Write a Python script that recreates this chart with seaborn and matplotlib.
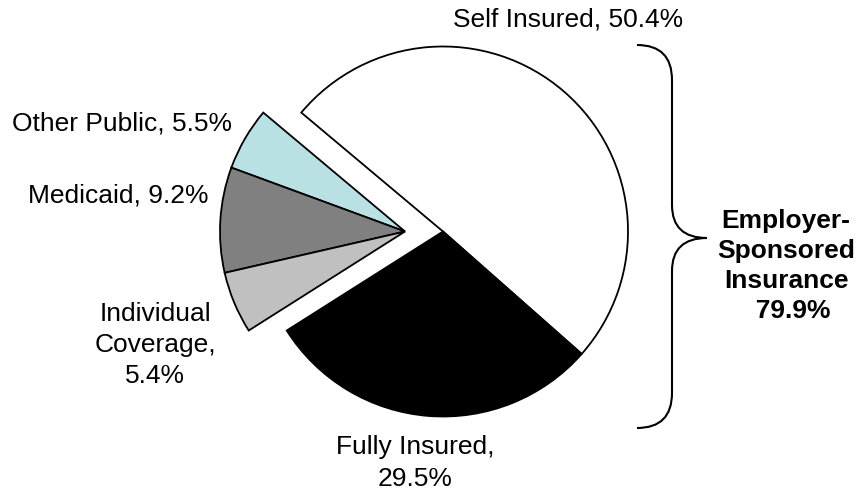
import matplotlib
matplotlib.use("Agg")
import matplotlib.pyplot as plt
from matplotlib.path import Path
from matplotlib.patches import PathPatch
import seaborn as sns

# coverage shares (percent), counterclockwise from Self Insured
labels = ["Self Insured", "Other Public", "Medicaid", "Individual Coverage", "Fully Insured"]
shares = [50.4, 5.5, 9.2, 5.4, 29.5]
employer = [True, False, False, False, True]
colors = ["white", "#b9e0e3", "#808080", "#c0c0c0", "black"]
employer_total = "79.9%"

sns.set_theme(style="white")
plt.rcParams["font.family"] = ["Liberation Sans", "DejaVu Sans"]
plt.rcParams["text.color"] = "black"

W, H = 859, 494
fig = plt.figure(figsize=(W / 100, H / 100), dpi=100)
ax = fig.add_axes([0, 0, 1, 1])

R = 185
cy = H - 231.5
start = 140 - shares[0] * 3.6

# employer-sponsored slices pulled right, the rest pulled left
for cx, keep in [(443, True), (405, False)]:
    wedges, _ = ax.pie(shares, colors=colors, startangle=start, radius=R,
                       center=(cx, cy), counterclock=True,
                       wedgeprops=dict(edgecolor="black", linewidth=1.3))
    for w, emp in zip(wedges, employer):
        w.set_visible(emp == keep)

ax.set_xlim(0, W)
ax.set_ylim(0, H)
ax.set_aspect("equal")
ax.axis("off")

fs = 19
def label(x, y, s, ls=1.38, **kw):
    ax.text(x, H - y, s, ha="center", va="center", fontsize=fs, color="black",
            multialignment="center", linespacing=ls, **kw)

label(568, 20, f"{labels[0]}, {shares[0]}%")
label(122, 123, f"{labels[1]}, {shares[1]}%")
label(118, 196, f"{labels[2]}, {shares[2]}%")
label(155, 345, f"Individual\nCoverage,\n{shares[3]}%")
label(415, 463, f"{labels[4]},\n{shares[4]}%")
label(786, 266, f"Employer-\nSponsored\nInsurance\n  {employer_total}", ls=1.33, fontweight="bold")

# curly brace around the employer-sponsored slices
def p(x, y):
    return (x, H - y)

verts = [p(637, 45), p(672, 45), p(672, 80),
         p(672, 205),
         p(672, 238), p(707, 238),
         p(672, 238), p(672, 271),
         p(672, 393),
         p(672, 428), p(637, 428)]
codes = [Path.MOVETO, Path.CURVE3, Path.CURVE3,
         Path.LINETO,
         Path.CURVE3, Path.CURVE3,
         Path.CURVE3, Path.CURVE3,
         Path.LINETO,
         Path.CURVE3, Path.CURVE3]
ax.add_patch(PathPatch(Path(verts, codes), fill=False, edgecolor="black", linewidth=1.5))

fig.savefig("out.png", dpi=100)
